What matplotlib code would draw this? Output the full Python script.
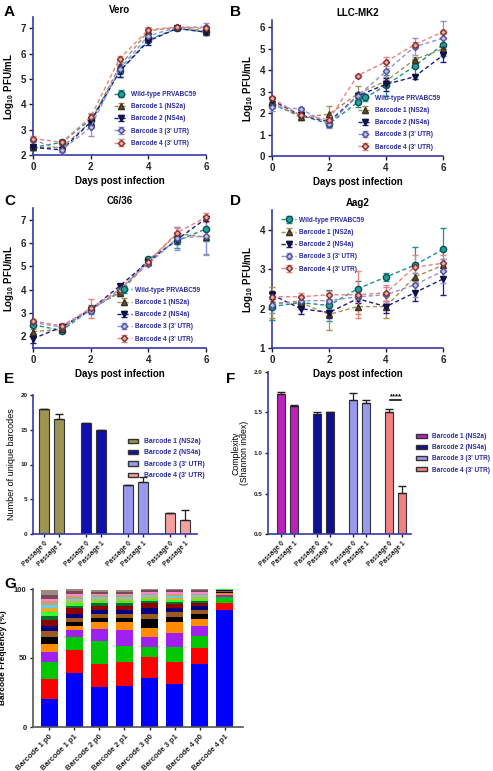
import numpy as np
import matplotlib
matplotlib.use("Agg")
import matplotlib.pyplot as plt
from matplotlib.patches import Patch

plt.rcParams['font.family'] = ['Liberation Sans', 'DejaVu Sans']
plt.rcParams['font.weight'] = 'bold'
plt.rcParams['mathtext.default'] = 'regular'

days = [0, 1, 2, 3, 4, 5, 6]
series_names = ["Wild-type PRVABC59", "Barcode 1 (NS2a)", "Barcode 2 (NS4a)",
                "Barcode 3 (3' UTR)", "Barcode 4 (3' UTR)"]

# Panel A: Vero
vero_wt = [2.3, 2.5, 3.4, 5.3, 6.55, 7.0, 6.85]
vero_b1 = [2.3, 2.3, 3.3, 5.5, 6.9, 7.05, 6.9]
vero_b2 = [2.3, 2.2, 3.3, 5.3, 6.5, 7.0, 6.85]
vero_b3 = [2.6, 2.2, 3.1, 5.4, 6.7, 7.05, 7.05]
vero_b4 = [2.65, 2.5, 3.5, 5.8, 6.95, 7.05, 7.0]
vero_err = [[0.1, 0.1, 0.2, 0.2, 0.1, 0.05, 0.1],
            [0.1, 0.1, 0.15, 0.1, 0.1, 0.05, 0.1],
            [0.1, 0.1, 0.15, 0.2, 0.15, 0.05, 0.1],
            [0.1, 0.1, 0.35, 0.2, 0.1, 0.05, 0.15],
            [0.1, 0.1, 0.15, 0.1, 0.1, 0.05, 0.1]]

# Panel B: LLC-MK2
llc_wt = [2.4, 1.9, 1.5, 2.5, 3.3, 4.2, 5.2]
llc_b1 = [2.5, 1.8, 1.95, 2.9, 3.5, 4.5, 5.0]
llc_b2 = [2.6, 1.9, 1.6, 2.8, 3.35, 3.7, 4.7]
llc_b3 = [2.3, 2.2, 1.5, 2.8, 3.95, 5.1, 5.5]
llc_b4 = [2.7, 1.9, 1.7, 3.75, 4.4, 5.2, 5.8]
llc_err = [[0.15, 0.2, 0.15, 0.2, 0.5, 0.35, 0.55],
           [0.1, 0.1, 0.4, 0.35, 0.2, 0.1, 0.2],
           [0.1, 0.1, 0.1, 0.1, 0.3, 0.1, 0.3],
           [0.2, 0.1, 0.2, 0.2, 0.4, 0.4, 0.8],
           [0.1, 0.1, 0.1, 0.1, 0.2, 0.1, 0.1]]

# Panel C: C6/36
c636_wt = [2.5, 2.25, 3.15, 3.9, 5.3, 6.1, 6.6]
c636_b1 = [2.2, 2.3, 3.2, 3.85, 5.2, 6.4, 6.25]
c636_b2 = [1.9, 2.4, 3.15, 4.15, 5.2, 6.15, 7.05]
c636_b3 = [2.6, 2.4, 3.1, 4.0, 5.1, 6.2, 6.3]
c636_b4 = [2.65, 2.45, 3.2, 4.0, 5.2, 6.45, 7.1]
c636_err = [[0.1, 0.1, 0.2, 0.1, 0.1, 0.3, 0.5],
            [0.1, 0.1, 0.1, 0.1, 0.1, 0.3, 0.7],
            [0.2, 0.1, 0.1, 0.1, 0.1, 0.2, 0.1],
            [0.1, 0.1, 0.1, 0.1, 0.1, 0.5, 0.8],
            [0.1, 0.1, 0.4, 0.1, 0.1, 0.2, 0.2]]

# Panel D: Aag2
aag_wt = [2.05, 2.15, 2.08, 2.5, 2.8, 3.1, 3.5]
aag_b1 = [2.15, 2.15, 1.85, 2.05, 2.05, 2.8, 3.1]
aag_b2 = [2.35, 2.0, 1.9, 2.25, 2.05, 2.4, 2.75]
aag_b3 = [2.1, 2.2, 2.2, 2.3, 2.35, 2.6, 2.95]
aag_b4 = [2.3, 2.3, 2.35, 2.35, 2.4, 3.05, 3.15]
aag_err = [[0.35, 0.15, 0.4, 0.2, 0.1, 0.45, 0.55],
           [0.4, 0.15, 0.4, 0.2, 0.3, 0.1, 0.15],
           [0.1, 0.15, 0.15, 0.1, 0.15, 0.2, 0.4],
           [0.2, 0.15, 0.2, 0.1, 0.2, 0.3, 0.3],
           [0.1, 0.1, 0.1, 0.6, 0.2, 0.3, 0.2]]

# Panel E / F
barcode_names = ["Barcode 1 (NS2a)", "Barcode 2 (NS4a)", "Barcode 3 (3' UTR)", "Barcode 4 (3' UTR)"]
passage_labels = ["Passage 0", "Passage 1"] * 4
unique_counts = [18, 16.5, 16, 15, 7, 7.5, 3, 2]
unique_err = [0, 0.7, 0, 0, 0, 0.7, 0, 1.4]
shannon = [1.73, 1.58, 1.48, 1.50, 1.66, 1.62, 1.51, 0.51]
shannon_err = [0.02, 0.01, 0.02, 0.01, 0.08, 0.03, 0.03, 0.08]

# Panel G: stacked barcode frequencies
g_labels = ["Barcode 1 p0", "Barcode 1 p1", "Barcode 2 p0", "Barcode 2 p1",
            "Barcode 3 p0", "Barcode 3 p1", "Barcode 4 p0", "Barcode 4 p1"]
g_blue = [20, 39, 29, 30, 35.5, 31, 46, 85]
g_red = [15, 17, 17, 17, 15.5, 16, 11, 5]
g_green = [12, 9, 16, 12, 7, 11, 9, 4]
g_purple = [7, 5, 9, 11, 7, 10, 7, 2]
g_orange = [6, 3, 5, 6, 7, 8, 5, 1]
g_black = [5, 3, 3, 3, 6, 4, 4, 0.8]
g_brown = [4.5, 3, 3, 3, 4, 3, 3, 0.6]
g_navy = [4, 3, 3, 3, 4, 3, 3, 0.6]
g_darkred = [4, 4, 3, 3, 4, 3, 2, 0.5]
g_darkgreen = [3, 2, 1.5, 1.5, 1.5, 1.5, 1.5, 0.1]
g_lightgreen = [2.5, 1.5, 1.5, 1.5, 1.5, 1.5, 1.5, 0.1]
g_gold = [3, 2, 1.5, 1.5, 1.0, 1.5, 1.0, 0.1]
g_sky = [2.5, 1.5, 1.5, 1.5, 1.5, 1.5, 1.5, 0.1]
g_tan = [2.5, 2, 1.5, 1.5, 1.0, 1.5, 1.0, 0.1]
g_pink = [2, 1.5, 1.0, 1.0, 1.0, 1.0, 1.0, 0.0]
g_mauve = [3, 2, 1.5, 1.5, 1.5, 1.5, 1.5, 0.0]
g_gray = [3, 1.5, 1.5, 1.5, 1.0, 1.0, 1.0, 0.0]

g_layers = [g_blue, g_red, g_green, g_purple, g_orange, g_black, g_brown, g_navy,
            g_darkred, g_darkgreen, g_lightgreen, g_gold, g_sky, g_tan, g_pink,
            g_mauve, g_gray]
g_colors = ['#0000FF', '#FF0000', '#00C800', '#A020F0', '#FF8C00', '#000000',
            '#9C5A1E', '#000080', '#8B0000', '#0B6B2B', '#33FF33', '#E0B020',
            '#66CCEE', '#C8A070', '#FF88CC', '#7A4A5A', '#9A8A80']

# ---------- styling ----------
line_colors = ['#1A9090', '#A89050', '#1C1C8C', '#9090E0', '#F08080']
mk = ['o', '^', 'v', 'D', 'D']
mk_face = ['#20A0A0', '#5C5030', '#101050', '#C0C0F5', '#E8B0A0']
mk_edge = ['#0E4E4E', '#3A3020', '#101040', '#505090', '#803030']
mk_size = [4.5, 4.5, 4.5, 3.2, 3.2]
spine_c = '#3838A8'
leg_text_c = '#2B2BA0'

fig = plt.figure(figsize=(4.93, 7.71), dpi=100)
W, H = 493.0, 771.0

def ax_px(left, right, top, bottom):
    ax = fig.add_axes([left / W, 1 - bottom / H, (right - left) / W, (bottom - top) / H])
    ax.patch.set_visible(False)
    return ax

def style_axes(ax, sc=spine_c):
    for s in ['top', 'right']:
        ax.spines[s].set_visible(False)
    for s in ['left', 'bottom']:
        ax.spines[s].set_color(sc)
        ax.spines[s].set_linewidth(1.2)
    ax.tick_params(colors='#222222', width=1, length=3, pad=2)

def growth_panel(ax, data, errs, title, ylim, yticks, legend_loc, bbox):
    for i, (vals, e) in enumerate(zip(data, errs)):
        ax.errorbar(days, vals, yerr=e, color=line_colors[i], ls=(0, (3, 2)), lw=1.0,
                    marker=mk[i], ms=mk_size[i], mfc=mk_face[i], mec=mk_edge[i],
                    capsize=2, elinewidth=0.9, ecolor=line_colors[i],
                    label=series_names[i], clip_on=False, zorder=3)
    ax.set_xlim(0, 6)
    ax.set_ylim(*ylim)
    ax.set_xticks([0, 2, 4, 6])
    ax.set_yticks(yticks)
    style_axes(ax)
    ax.tick_params(labelsize=7)
    ax.set_title(title, fontsize=7, fontweight='bold', pad=3)
    ax.set_xlabel("Days post infection", fontsize=7, fontweight='bold', labelpad=3)
    ax.set_ylabel("Log$_{10}$ PFU/mL", fontsize=7, fontweight='bold', labelpad=3)
    leg = ax.legend(loc=legend_loc, bbox_to_anchor=bbox, fontsize=4.7, frameon=False,
                    handlelength=2.2, labelspacing=0.8, handletextpad=0.5, borderaxespad=0.0)
    for t in leg.get_texts():
        t.set_color(leg_text_c)
        t.set_fontweight('bold')

axA = ax_px(33, 206, 17, 155)
growth_panel(axA, [vero_wt, vero_b1, vero_b2, vero_b3, vero_b4], vero_err, "Vero",
             (2, 7.45), [2, 3, 4, 5, 6, 7], 'lower right', (0.96, 0.04))
axB = ax_px(272, 443, 20, 156)
growth_panel(axB, [llc_wt, llc_b1, llc_b2, llc_b3, llc_b4], llc_err, "LLC-MK2",
             (0, 6.35), [0, 1, 2, 3, 4, 5, 6], 'lower right', (1.0, 0.02))
axC = ax_px(33, 206, 208, 348)
growth_panel(axC, [c636_wt, c636_b1, c636_b2, c636_b3, c636_b4], c636_err, "C6/36",
             (1.5, 7.5), [2, 3, 4, 5, 6, 7], 'lower right', (0.98, 0.02))
axD = ax_px(272, 443, 210, 348)
growth_panel(axD, [aag_wt, aag_b1, aag_b2, aag_b3, aag_b4], aag_err, "Aag2",
             (1, 4.5), [1, 2, 3, 4], 'upper left', (0.04, 0.97))

# ---------- E ----------
bar_pos = [0, 1, 2.8, 3.8, 5.6, 6.6, 8.4, 9.4]
e_colors = ['#9C9450', '#9C9450', '#1010B0', '#1010B0', '#9999EE', '#9999EE', '#F4A0A0', '#F4A0A0']
axE = ax_px(33, 197, 395, 534)
axE.bar(bar_pos, unique_counts, width=0.68, color=e_colors, edgecolor='#333333', lw=0.8,
        yerr=[[0] * 8, unique_err], capsize=3, error_kw=dict(elinewidth=0.9, ecolor='#222222'))
axE.set_xlim(-0.73, 10.2)
axE.set_ylim(0, 20)
axE.set_yticks([0, 5, 10, 15, 20])
axE.set_xticks(bar_pos)
axE.set_xticklabels(passage_labels, rotation=45, ha='right', rotation_mode='anchor')
style_axes(axE)
axE.tick_params(axis='y', labelsize=4.6, length=2)
axE.tick_params(axis='x', labelsize=4.8, length=2)
axE.set_ylabel("Number of unique barcodes", fontsize=6.5, fontweight='normal', labelpad=3)
handlesE = [Patch(facecolor=c, edgecolor='#333333') for c in ['#9C9450', '#1010B0', '#9999EE', '#F4A0A0']]
legE = axE.legend(handlesE, barcode_names, loc='upper left', bbox_to_anchor=(0.56, 0.71),
                  fontsize=4.9, frameon=False, handlelength=1.6, handleheight=0.55,
                  labelspacing=0.65, handletextpad=0.8, borderaxespad=0.0)
for t in legE.get_texts():
    t.set_color(leg_text_c)

# ---------- F ----------
bar_posF = [0, 1, 2.77, 3.77, 5.54, 6.54, 8.31, 9.31]
f_colors = ['#BB22BB', '#BB22BB', '#101090', '#101090', '#9999EE', '#9999EE', '#F28080', '#F28080']
axF = ax_px(268, 411, 372, 534)
axF.bar(bar_posF, shannon, width=0.68, color=f_colors, edgecolor='#333333', lw=0.8,
        yerr=[[0] * 8, shannon_err], capsize=3, error_kw=dict(elinewidth=0.9, ecolor='#222222'))
axF.set_xlim(-1.0, 10.0)
axF.set_ylim(0, 2.0)
axF.set_yticks([0.0, 0.5, 1.0, 1.5, 2.0])
axF.set_yticklabels(["0.0", "0.5", "1.0", "1.5", "2.0"])
axF.set_xticks(bar_posF)
axF.set_xticklabels(passage_labels, rotation=45, ha='right', rotation_mode='anchor')
style_axes(axF)
axF.tick_params(axis='y', labelsize=4.6, length=2)
axF.tick_params(axis='x', labelsize=4.8, length=2)
axF.set_ylabel("Complexity\n(Shannon index)", fontsize=6.3, fontweight='normal', labelpad=3,
               linespacing=1.0)
axF.plot([bar_posF[6] + 0.1, bar_posF[7] - 0.1], [1.65, 1.65], color='#111111', lw=1.2)
axF.text((bar_posF[6] + bar_posF[7]) / 2, 1.655, "****", ha='center', va='bottom', fontsize=5.5)
handlesF = [Patch(facecolor=c, edgecolor='#333333') for c in ['#BB22BB', '#101090', '#9999EE', '#F28080']]
legF = axF.legend(handlesF, barcode_names, loc='upper left', bbox_to_anchor=(1.02, 0.64),
                  fontsize=4.7, frameon=False, handlelength=1.6, handleheight=0.55,
                  labelspacing=0.65, handletextpad=0.8, borderaxespad=0.0)
for t in legF.get_texts():
    t.set_color(leg_text_c)

# ---------- G ----------
axG = ax_px(33, 243, 589, 727)
xg = np.arange(len(g_labels))
bottom = np.zeros(len(g_labels))
for vals, c in zip(g_layers, g_colors):
    axG.bar(xg, vals, bottom=bottom, width=0.68, color=c, edgecolor='none')
    bottom += np.array(vals)
axG.set_xlim(-0.64, 7.72)
axG.set_ylim(0, 100)
axG.set_yticks([0, 50, 100])
axG.set_xticks(xg)
axG.set_xticklabels(g_labels, rotation=45, ha='right', rotation_mode='anchor')
style_axes(axG, sc='#555555')
axG.tick_params(axis='y', labelsize=5.5, length=2.5)
axG.tick_params(axis='x', labelsize=5.5, length=2.5)
axG.set_ylabel("Barcode Frequency (%)", fontsize=6, fontweight='bold', labelpad=5)

# ---------- panel letters ----------
for letter, (px, py) in {'A': (4, 12), 'B': (230, 12), 'C': (4, 201), 'D': (230, 201),
                          'E': (4, 379), 'F': (226, 379), 'G': (4, 584)}.items():
    fig.text(px / W, 1 - py / H, letter, fontsize=11, fontweight='bold', va='center', ha='left')

fig.savefig("out.png", dpi=100, facecolor='white')
